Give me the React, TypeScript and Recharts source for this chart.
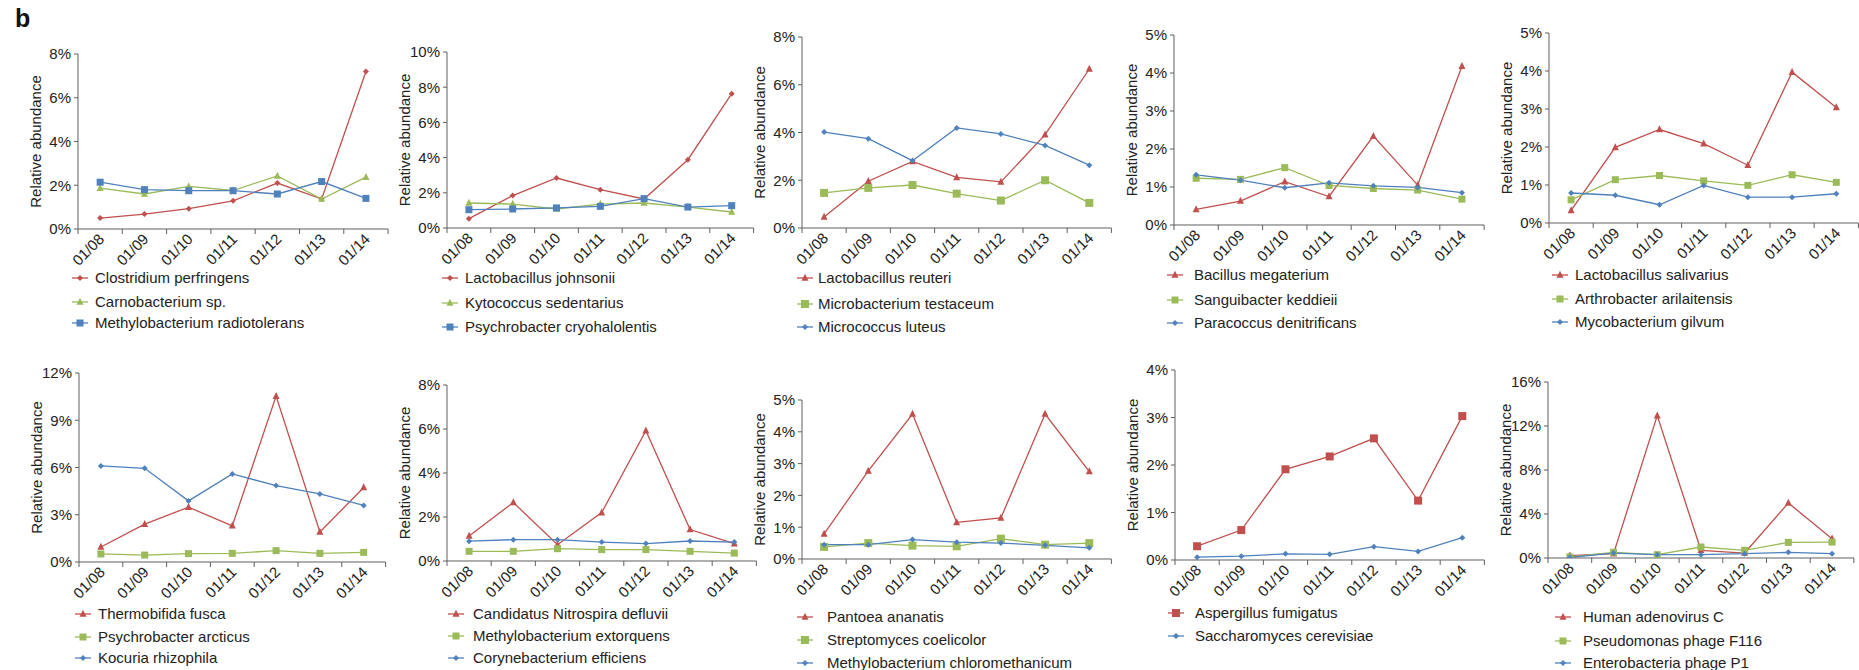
import { LineChart, Line, XAxis, YAxis, Label } from "recharts"

const dates = ["01/08", "01/09", "01/10", "01/11", "01/12", "01/13", "01/14"]

// panel 1
const clostridiumPerfringens = [0.5, 0.68, 0.93, 1.29, 2.1, 1.37, 7.2]
const carnobacteriumSp = [1.87, 1.6, 1.95, 1.76, 2.43, 1.37, 2.37]
const methylobacteriumRadiotolerans = [2.14, 1.8, 1.75, 1.75, 1.6, 2.17, 1.4]
// panel 2
const lactobacillusJohnsonii = [0.53, 1.84, 2.84, 2.18, 1.65, 3.88, 7.63]
const kytococcusSedentarius = [1.42, 1.36, 1.08, 1.36, 1.42, 1.19, 0.91]
const psychrobacterCryohalolentis = [1.04, 1.08, 1.14, 1.23, 1.67, 1.19, 1.27]
// panel 3
const lactobacillusReuteri = [0.46, 1.96, 2.79, 2.12, 1.93, 3.91, 6.66]
const microbacteriumTestaceum = [1.47, 1.68, 1.8, 1.44, 1.15, 2.0, 1.05]
const micrococcusLuteus = [4.02, 3.74, 2.82, 4.19, 3.94, 3.46, 2.63]
// panel 4
const bacillusMegaterium = [0.41, 0.63, 1.14, 0.75, 2.34, 1.05, 4.18]
const sanguibacterKeddieii = [1.23, 1.2, 1.51, 1.04, 0.96, 0.92, 0.68]
const paracoccusDenitrificans = [1.32, 1.18, 0.98, 1.11, 1.03, 0.99, 0.85]
// panel 5
const lactobacillusSalivarius = [0.33, 1.99, 2.46, 2.09, 1.52, 3.97, 3.04]
const arthrobacterArilaitensis = [0.61, 1.14, 1.25, 1.11, 0.99, 1.27, 1.07]
const mycobacteriumGilvum = [0.79, 0.73, 0.48, 0.99, 0.68, 0.68, 0.77]
// panel 6
const thermobifidaFusca = [0.95, 2.4, 3.48, 2.3, 10.53, 1.9, 4.73]
const psychrobacterArcticus = [0.51, 0.44, 0.53, 0.55, 0.72, 0.55, 0.61]
const kocuriaRhizophila = [6.1, 5.95, 3.88, 5.59, 4.85, 4.32, 3.59]
// panel 7
const nitrospiraDefluvii = [1.14, 2.66, 0.74, 2.2, 5.92, 1.43, 0.79]
const methylobacteriumExtorquens = [0.44, 0.44, 0.56, 0.52, 0.52, 0.44, 0.36]
const corynebacteriumEfficiens = [0.9, 0.97, 0.97, 0.86, 0.79, 0.91, 0.86]
// panel 8
const pantoeaAnanatis = [0.79, 2.77, 4.56, 1.15, 1.29, 4.56, 2.75]
const streptomycesCoelicolor = [0.38, 0.5, 0.42, 0.4, 0.64, 0.45, 0.5]
const methylobacteriumChloromethanicum = [0.45, 0.45, 0.61, 0.53, 0.5, 0.43, 0.35]
// panel 9
const aspergillusFumigatus = [0.29, 0.63, 1.91, 2.18, 2.56, 1.25, 3.03]
const saccharomycesCerevisiae = [0.06, 0.08, 0.13, 0.12, 0.28, 0.18, 0.47]
// panel 10
const humanAdenovirusC = [0.21, 0.39, 12.94, 0.7, 0.45, 5.0, 1.76]
const pseudomonasPhageF116 = [0.09, 0.52, 0.3, 1.0, 0.7, 1.42, 1.45]
const enterobacteriaPhageP1 = [0.06, 0.45, 0.3, 0.3, 0.39, 0.52, 0.39]

const RED = "#C0504D"
const GREEN = "#9BBB59"
const BLUE = "#4F81BD"
const AXIS = "#5f5f5f"
const TEXT = "#222"
const FONT = "'Liberation Sans', Arial, sans-serif"
const FS = 15

type Shape = "diamond" | "triangle" | "square"

interface Series {
  name: string
  values: number[]
  color: string
  shape: Shape
  size: number
}

interface Panel {
  left: number
  top: number
  bottom: number
  band: number
  yMax: number
  yTicks: number[]
  series: Series[]
  legendX: number
  legendTextX: number
  legendRows: number[]
}

const s = (name: string, values: number[], color: string, shape: Shape, size = 7): Series => ({
  name,
  values,
  color,
  shape,
  size,
})

const panels: Panel[] = [
  {
    left: 78, top: 54, bottom: 229, band: 44.3, yMax: 8, yTicks: [0, 2, 4, 6, 8],
    series: [
      s("Clostridium perfringens", clostridiumPerfringens, RED, "diamond", 6),
      s("Carnobacterium sp.", carnobacteriumSp, GREEN, "triangle"),
      s("Methylobacterium radiotolerans", methylobacteriumRadiotolerans, BLUE, "square"),
    ],
    legendX: 72, legendTextX: 95, legendRows: [278, 302, 323],
  },
  {
    left: 447, top: 52, bottom: 228, band: 43.8, yMax: 10, yTicks: [0, 2, 4, 6, 8, 10],
    series: [
      s("Lactobacillus johnsonii", lactobacillusJohnsonii, RED, "diamond", 6),
      s("Kytococcus sedentarius", kytococcusSedentarius, GREEN, "triangle"),
      s("Psychrobacter cryohalolentis", psychrobacterCryohalolentis, BLUE, "square"),
    ],
    legendX: 442, legendTextX: 465, legendRows: [278, 303, 327],
  },
  {
    left: 802, top: 37, bottom: 228, band: 44.2, yMax: 8, yTicks: [0, 2, 4, 6, 8],
    series: [
      s("Lactobacillus reuteri", lactobacillusReuteri, RED, "triangle"),
      s("Microbacterium testaceum", microbacteriumTestaceum, GREEN, "square", 8),
      s("Micrococcus luteus", micrococcusLuteus, BLUE, "diamond", 6),
    ],
    legendX: 797, legendTextX: 818, legendRows: [278, 304, 327],
  },
  {
    left: 1174, top: 35, bottom: 225, band: 44.3, yMax: 5, yTicks: [0, 1, 2, 3, 4, 5],
    series: [
      s("Bacillus megaterium", bacillusMegaterium, RED, "triangle"),
      s("Sanguibacter keddieii", sanguibacterKeddieii, GREEN, "square"),
      s("Paracoccus denitrificans", paracoccusDenitrificans, BLUE, "diamond", 6),
    ],
    legendX: 1167, legendTextX: 1194, legendRows: [275, 300, 323],
  },
  {
    left: 1549, top: 33, bottom: 223, band: 44.2, yMax: 5, yTicks: [0, 1, 2, 3, 4, 5],
    series: [
      s("Lactobacillus salivarius", lactobacillusSalivarius, RED, "triangle"),
      s("Arthrobacter arilaitensis", arthrobacterArilaitensis, GREEN, "square"),
      s("Mycobacterium gilvum", mycobacteriumGilvum, BLUE, "diamond", 6),
    ],
    legendX: 1552, legendTextX: 1575, legendRows: [275, 299, 322],
  },
  {
    left: 79, top: 373, bottom: 562, band: 43.8, yMax: 12, yTicks: [0, 3, 6, 9, 12],
    series: [
      s("Thermobifida fusca", thermobifidaFusca, RED, "triangle"),
      s("Psychrobacter arcticus", psychrobacterArcticus, GREEN, "square"),
      s("Kocuria rhizophila", kocuriaRhizophila, BLUE, "diamond", 6),
    ],
    legendX: 75, legendTextX: 98, legendRows: [614, 637, 658],
  },
  {
    left: 447, top: 385, bottom: 561, band: 44.2, yMax: 8, yTicks: [0, 2, 4, 6, 8],
    series: [
      s("Candidatus Nitrospira defluvii", nitrospiraDefluvii, RED, "triangle"),
      s("Methylobacterium extorquens", methylobacteriumExtorquens, GREEN, "square"),
      s("Corynebacterium efficiens", corynebacteriumEfficiens, BLUE, "diamond", 6),
    ],
    legendX: 448, legendTextX: 473, legendRows: [614, 636, 658],
  },
  {
    left: 802, top: 400, bottom: 559, band: 44.2, yMax: 5, yTicks: [0, 1, 2, 3, 4, 5],
    series: [
      s("Pantoea ananatis", pantoeaAnanatis, RED, "triangle"),
      s("Streptomyces coelicolor", streptomycesCoelicolor, GREEN, "square", 8),
      s("Methylobacterium chloromethanicum", methylobacteriumChloromethanicum, BLUE, "diamond", 6),
    ],
    legendX: 797, legendTextX: 827, legendRows: [617, 640, 663],
  },
  {
    left: 1175, top: 370, bottom: 560, band: 44.2, yMax: 4, yTicks: [0, 1, 2, 3, 4],
    series: [
      s("Aspergillus fumigatus", aspergillusFumigatus, RED, "square", 8),
      s("Saccharomyces cerevisiae", saccharomycesCerevisiae, BLUE, "diamond", 6),
    ],
    legendX: 1168, legendTextX: 1195, legendRows: [613, 636],
  },
  {
    left: 1548, top: 382, bottom: 558, band: 43.7, yMax: 16, yTicks: [0, 4, 8, 12, 16],
    series: [
      s("Human adenovirus C", humanAdenovirusC, RED, "triangle"),
      s("Pseudomonas phage F116", pseudomonasPhageF116, GREEN, "square"),
      s("Enterobacteria phage P1", enterobacteriaPhageP1, BLUE, "diamond", 6),
    ],
    legendX: 1555, legendTextX: 1583, legendRows: [617, 641, 663],
  },
]

function marker(shape: Shape, cx: number, cy: number, color: string, size: number, key?: string) {
  const h = size / 2
  if (shape === "diamond") {
    return <polygon key={key} points={`${cx},${cy - h} ${cx + h},${cy} ${cx},${cy + h} ${cx - h},${cy}`} fill={color} />
  }
  if (shape === "triangle") {
    return (
      <polygon
        key={key}
        points={`${cx},${cy - size * 0.6} ${cx + h},${cy + size * 0.4} ${cx - h},${cy + size * 0.4}`}
        fill={color}
      />
    )
  }
  return <rect key={key} x={cx - h} y={cy - h} width={size} height={size} fill={color} />
}

// x ticks sit between categories, labels rotated
const makeXTick = (band: number) => (props: any) => {
  const { x, y, payload, index } = props
  return (
    <g>
      <line x1={x - band / 2} y1={y} x2={x - band / 2} y2={y + 5} stroke={AXIS} />
      {index === dates.length - 1 && <line x1={x + band / 2} y1={y} x2={x + band / 2} y2={y + 5} stroke={AXIS} />}
      <text
        transform={`translate(${x + 5},${y + 11}) rotate(-45)`}
        textAnchor="end"
        fontSize={FS}
        fontFamily={FONT}
        fill={TEXT}
      >
        {payload.value}
      </text>
    </g>
  )
}

const Y_W = 70
const TOP_M = 10
const X_H = 60
const RIGHT_M = 2

function PanelChart({ p }: { p: Panel }) {
  const plotW = p.band * 7
  const plotH = p.bottom - p.top
  const data = dates.map((d, i) => {
    const row: any = { date: d }
    p.series.forEach((se, k) => (row["s" + k] = se.values[i]))
    return row
  })

  return (
    <div style={{ position: "absolute", left: p.left - Y_W, top: p.top - TOP_M }}>
      <LineChart
        width={Y_W + plotW + RIGHT_M}
        height={TOP_M + plotH + X_H}
        data={data}
        margin={{ top: TOP_M, right: RIGHT_M, bottom: 0, left: 0 }}
      >
        <XAxis
          dataKey="date"
          height={X_H}
          padding={{ left: p.band / 2, right: p.band / 2 }}
          axisLine={{ stroke: AXIS }}
          tickLine={false}
          tickSize={0}
          tickMargin={0}
          interval={0}
          tick={makeXTick(p.band)}
        />
        <YAxis
          width={Y_W}
          domain={[0, p.yMax]}
          ticks={p.yTicks}
          allowDataOverflow
          axisLine={{ stroke: AXIS }}
          tickLine={{ stroke: AXIS }}
          tickSize={4}
          tickMargin={3}
          tickFormatter={(v) => `${v}%`}
          tick={{ fontSize: FS, fontFamily: FONT, fill: TEXT }}
        >
          <Label
            content={(lp: any) => {
              const vb = lp.viewBox || { x: 0, y: TOP_M, width: Y_W, height: plotH }
              const cx = vb.x + vb.width - 37
              const cy = vb.y + vb.height / 2
              return (
                <text
                  transform={`translate(${cx},${cy}) rotate(-90)`}
                  textAnchor="middle"
                  fontSize={FS}
                  fontFamily={FONT}
                  fill={TEXT}
                >
                  Relative abundance
                </text>
              )
            }}
          />
        </YAxis>
        {p.series.map((se, k) => (
          <Line
            key={se.name}
            dataKey={"s" + k}
            name={se.name}
            type="linear"
            stroke={se.color}
            strokeWidth={1.3}
            isAnimationActive={false}
            activeDot={false}
            dot={(dp: any) => marker(se.shape, dp.cx, dp.cy, se.color, se.size, `d-${k}-${dp.index}`)}
          />
        ))}
      </LineChart>
    </div>
  )
}

function PanelLegend({ p }: { p: Panel }) {
  return (
    <>
      {p.series.map((se, k) => (
        <div
          key={se.name}
          style={{
            position: "absolute",
            left: p.legendX,
            top: p.legendRows[k] - 10,
            height: 20,
            display: "flex",
            alignItems: "center",
            whiteSpace: "nowrap",
          }}
        >
          <svg width={p.legendTextX - p.legendX} height={20} style={{ display: "block" }}>
            <line x1={0} y1={10} x2={16} y2={10} stroke={se.color} strokeWidth={1.3} />
            {marker(se.shape, 8, 10, se.color, se.size)}
          </svg>
          <span style={{ fontFamily: FONT, fontSize: FS, color: TEXT, lineHeight: "20px" }}>{se.name}</span>
        </div>
      ))}
    </>
  )
}

export default function App() {
  return (
    <div
      style={{
        position: "absolute",
        left: 0,
        top: 0,
        width: 1859,
        height: 670,
        overflow: "hidden",
        background: "#fff",
        fontFamily: FONT,
      }}
    >
      <div style={{ position: "absolute", left: 15, top: 4, fontSize: 25, fontWeight: "bold", color: "#111" }}>b</div>
      {panels.map((p, i) => (
        <PanelChart key={i} p={p} />
      ))}
      {panels.map((p, i) => (
        <PanelLegend key={"l" + i} p={p} />
      ))}
    </div>
  )
}
